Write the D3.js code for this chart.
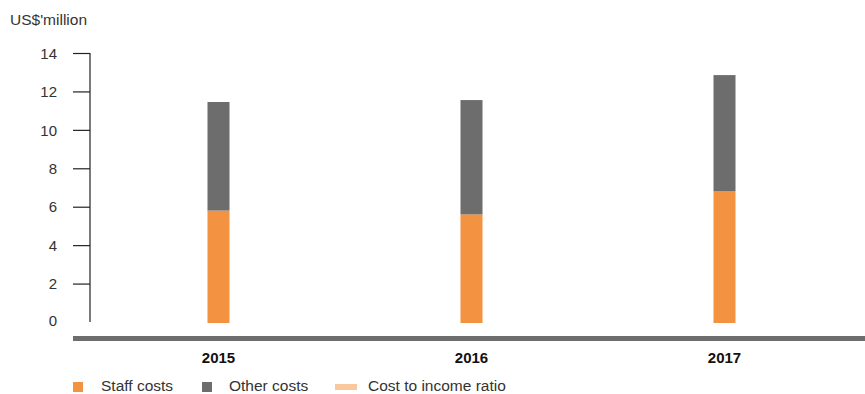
<!DOCTYPE html>
<html>
<head>
<meta charset="utf-8">
<script src="https://cdn.jsdelivr.net/npm/d3@7"></script>
<style>
  body { margin: 0; background: #fff; }
  text { font-family: "Liberation Sans", Arial, sans-serif; }
</style>
</head>
<body>
<script>
// data
var years = ['2015', '2016', '2017'];
var staffCosts = [5.8, 5.6, 6.8];
var otherCosts = [5.65, 5.95, 6.05];
var yTicks = [0, 2, 4, 6, 8, 10, 12, 14];
var legendLabels = ['Staff costs', 'Other costs', 'Cost to income ratio'];

var orange = '#f39240', grey = '#6d6d6d', lightOrange = '#f9c89c';

var svg = d3.select('body').append('svg')
    .attr('width', 865)
    .attr('height', 394);

var x = d3.scalePoint()
    .domain(years)
    .range([92, 851])
    .padding(0.5);

var y = d3.scaleLinear()
    .domain([0, 14])
    .range([322, 53]);

var barW = 22;

// y axis
var yAxis = svg.append('g')
    .attr('transform', 'translate(90,0)')
    .call(d3.axisLeft(y).tickValues(yTicks).tickSize(17).tickPadding(16).tickSizeOuter(0));
yAxis.select('.domain').attr('stroke', '#222').attr('stroke-width', 1.2)
    .attr('d', 'M0,' + y(14) + 'V' + y(0));
yAxis.selectAll('.tick line').attr('stroke', '#222').attr('stroke-width', 1.2)
    .style('display', function(d) { return d == 0 ? 'none' : null; });
yAxis.selectAll('.tick text')
    .attr('fill', '#333')
    .style('font-size', '15px')
    .attr('dy', function(d) { return d == 0 ? '0.2em' : '0.35em'; });

svg.append('text')
    .attr('x', 10)
    .attr('y', 25)
    .attr('fill', '#333')
    .style('font-size', '15.5px')
    .text("US$'million");

// stacked bars
var stack = years.map(function(yr, i) {
    return { year: yr, staff: staffCosts[i], other: otherCosts[i] };
});

svg.selectAll('.staff').data(stack).enter().append('rect')
    .attr('class', 'staff')
    .attr('x', function(d) { return x(d.year) - barW / 2; })
    .attr('width', barW)
    .attr('y', function(d) { return y(d.staff); })
    .attr('height', function(d) { return y(0) - y(d.staff) + 1; })
    .attr('fill', orange);

svg.selectAll('.other').data(stack).enter().append('rect')
    .attr('class', 'other')
    .attr('x', function(d) { return x(d.year) - barW / 2; })
    .attr('width', barW)
    .attr('y', function(d) { return y(d.staff + d.other); })
    .attr('height', function(d) { return y(d.staff) - y(d.staff + d.other); })
    .attr('fill', grey);

// x axis band
svg.append('rect')
    .attr('x', 73)
    .attr('y', 336)
    .attr('width', 792)
    .attr('height', 5)
    .attr('fill', grey);

svg.selectAll('.year').data(years).enter().append('text')
    .attr('class', 'year')
    .attr('x', function(d) { return x(d); })
    .attr('y', 363)
    .attr('text-anchor', 'middle')
    .attr('fill', '#111')
    .style('font-size', '15px')
    .style('font-weight', 'bold')
    .text(function(d) { return d; });

// legend
var legX = [73, 202, 335];
var legTextX = [101, 229, 368];
legendLabels.forEach(function(lab, i) {
    if (i < 2) {
        svg.append('rect')
            .attr('x', legX[i]).attr('y', 382)
            .attr('width', 10).attr('height', 10)
            .attr('fill', i == 0 ? orange : grey);
    } else {
        svg.append('rect')
            .attr('x', legX[i]).attr('y', 384)
            .attr('width', 22).attr('height', 6)
            .attr('fill', lightOrange);
    }
    svg.append('text')
        .attr('x', legTextX[i])
        .attr('y', 391)
        .attr('fill', '#333')
        .style('font-size', '15.5px')
        .text(lab);
});
</script>
</body>
</html>
